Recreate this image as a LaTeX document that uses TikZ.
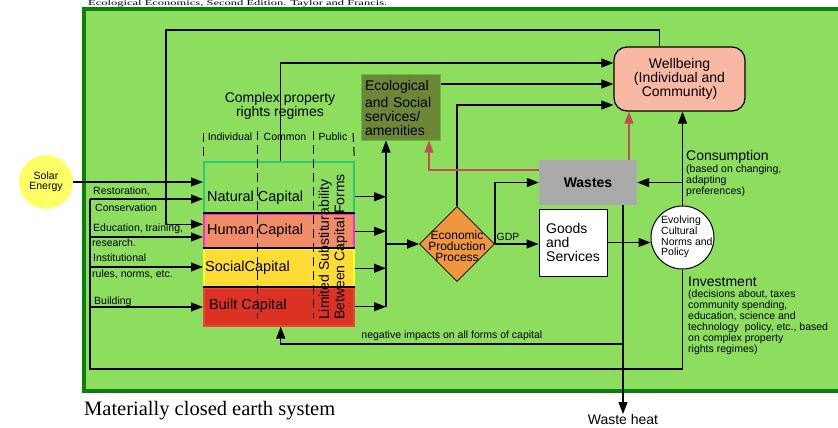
\documentclass[tikz,border=0pt]{standalone}
\usepackage{fontspec}
\setmainfont{Liberation Sans}
\newfontfamily\serifface{Liberation Serif}
\usetikzlibrary{shapes.geometric,arrows.meta}
\usepackage{xcolor}
\definecolor{earthgreen}{HTML}{8DDE5E}
\definecolor{earthedge}{HTML}{0A800A}
\definecolor{solaryellow}{HTML}{FFFF66}
\definecolor{naturaledge}{HTML}{2ECC71}
\definecolor{humanfill}{HTML}{F08C68}
\definecolor{humanedge}{HTML}{F030D0}
\definecolor{socialfill}{HTML}{FFDC34}
\definecolor{socialedge}{HTML}{FFFF30}
\definecolor{builtfill}{HTML}{DC3224}
\definecolor{builtedge}{HTML}{F04434}
\definecolor{ecofill}{HTML}{6E8737}
\definecolor{ecoedge}{HTML}{5CC040}
\definecolor{wellfill}{HTML}{F8B8A4}
\definecolor{wastegray}{HTML}{AAAAAA}
\definecolor{eppfill}{HTML}{F0963F}
\definecolor{wasteline}{HTML}{BE5050}

\begin{document}
\begin{tikzpicture}[x=1pt,y=-1pt,
  arr/.style={draw=black, line width=1.2pt, -{Triangle[length=12pt,width=9pt]}},
  wastearr/.style={arr, draw=wasteline},
  capbox/.style={rectangle, minimum width=150pt, anchor=north west, inner sep=0pt, line width=1.5pt},
  captxt/.style={font=\fontsize{14.5}{15}\selectfont, inner sep=0pt, anchor=west},
  txt/.style={font=\fontsize{10.5}{11}\selectfont, inner sep=0pt},
  big/.style={font=\fontsize{14}{14}\selectfont, inner sep=0pt},
  regime/.style={dash pattern=on 9pt off 5pt, line width=1pt}]
  \useasboundingbox (0,0) rectangle (838,428);
  \fill[white] (0,0) rectangle (838,428);
  \draw[line width=4pt, draw=earthedge, fill=earthgreen] (84,9) rectangle (860,391);
  \node[anchor=base west, yscale=0.6, font=\serifface\fontsize{12.5}{13}\selectfont, inner sep=0pt] (source) at (88,6) {Ecological Economics, Second Edition. Taylor and Francis.};
  \node[anchor=base west, font=\serifface\fontsize{20.5}{21}\selectfont, inner sep=0pt] (closed) at (84,415) {Materially closed earth system};

  \node[circle, fill=solaryellow, minimum size=54pt, inner sep=0pt, align=center, font=\fontsize{10.5}{10}\selectfont] (solar) at (46,182) {Solar\\Energy};

  \node[capbox, minimum height=52pt, fill=earthgreen, draw=naturaledge] (natural) at (203,161) {};
  \node[capbox, minimum height=35pt, fill=humanfill, draw=humanedge] (human) at (203,213) {};
  \node[capbox, minimum height=39pt, fill=socialfill, draw=socialedge] (social) at (203,248) {};
  \node[capbox, minimum height=38pt, fill=builtfill, draw=builtedge] (built) at (203,287) {};
  \draw[line width=1.6pt] (human.north west) -- (human.north east);
  \draw[line width=1.6pt] (social.north west) -- (social.north east);
  \draw[line width=1.6pt] (built.north west) -- (built.north east);
  \node[captxt] (naturaltxt) at (207,198) {Natural Capital};
  \node[captxt] (humantxt) at (207,231) {Human Capital};
  \node[captxt] (socialtxt) at (205,268) {SocialCapital};
  \node[captxt] (builttxt) at (209,306) {Built Capital};

  \draw[regime] (203,133) -- (natural.north west);
  \draw[regime] (257,131) -- (257,318);
  \draw[regime] (313,131) -- (313,318);
  \draw[regime] (353,133) -- (natural.north east);
  \node[txt] (individual) at (230,137) {Individual};
  \node[txt] (common) at (285,137) {Common};
  \node[txt] (public) at (333,137) {Public};
  \node[big, align=center] (regimes) at (280,106) {Complex property\\rights regimes};
  \node[rotate=90, anchor=west, align=left, font=\fontsize{14}{15.5}\selectfont, inner sep=0pt] (substitute) at (333,320) {Limited Substiturability\\Between Capital Forms};

  \node[fill=ecofill, draw=ecoedge, line width=1pt, minimum width=79pt, minimum height=65pt, text width=71pt, align=left, inner sep=0pt, font=\fontsize{14}{14}\selectfont] (eco) at (400.5,107.5) {Ecological\\[3pt]and Social\\services/\\amenities};
  \node[rounded corners=13pt, fill=wellfill, draw, line width=1.2pt, minimum width=131pt, minimum height=64pt, align=center, font=\fontsize{14}{14}\selectfont] (wellbeing) at (679.5,79) {Wellbeing\\(Individual and\\Community)};
  \node[fill=wastegray, minimum width=98pt, minimum height=45pt, font=\bfseries\fontsize{14}{14}\selectfont] (wastes) at (588,182.5) {Wastes};
  \node[fill=white, draw, line width=1pt, minimum width=68pt, minimum height=67pt, align=left, font=\fontsize{14}{14}\selectfont] (goods) at (573,242.5) {Goods\\and\\Services};
  \node[diamond, fill=eppfill, draw, line width=0.8pt, minimum width=75pt, minimum height=75pt, inner sep=0pt] (epp) at (457,244) {};
  \node[align=center, inner sep=0pt, font=\fontsize{12}{10.8}\selectfont] (epptxt) at (457,246) {Economic\\Production\\Process};
  \node[circle, fill=white, draw, line width=1pt, minimum size=63pt, inner sep=0pt] (evolving) at (682.5,237.5) {};
  \node[anchor=west, align=left, inner sep=0pt, font=\fontsize{10.5}{10.6}\selectfont] (evolvingtxt) at (661,237) {Evolving\\Cultural\\Norms and\\Policy};
  \node[anchor=north, inner sep=0pt, font=\fontsize{14}{14}\selectfont] (heat) at (623,414) {Waste heat};

  \node[big, anchor=west] (consumption) at (686,156.5) {Consumption};
  \node[txt, anchor=north west, align=left] (consumptionnote) at (686,165) {(based on changing,\\adapting\\preferences)};
  \node[big, anchor=west] (investment) at (688,282) {Investment};
  \node[txt, anchor=north west, align=left] (investmentnote) at (688,290) {(decisions about, taxes\\community spending,\\education, science and\\technology\ \ policy, etc., based\\on complex property\\rights regimes)};

  \node[txt, anchor=base west] (restorationtxt) at (93,194) {Restoration,};
  \node[txt, anchor=base west] (conservationtxt) at (95,211) {Conservation};
  \node[txt, anchor=base west] (educationtxt) at (93,231) {Education, training,};
  \node[txt, anchor=base west] (researchtxt) at (92,246) {research.};
  \node[txt, anchor=base west] (institutionaltxt) at (93,261) {Institutional};
  \node[txt, anchor=base west] (rulestxt) at (92,277) {rules, norms, etc.};
  \node[txt, anchor=base west] (buildingtxt) at (94,304) {Building};

  \coordinate (investfoot) at (90,369);
  \coordinate (restoration) at (90,199);
  \coordinate (education) at (90,237);
  \coordinate (institution) at (90,267);
  \coordinate (building) at (90,307);
  \coordinate (feedback) at (166,30);
  \coordinate (capitalbus) at (386,0);
  \coordinate (negimpact) at (623,344);

  \draw[arr] (solar) -- (solar -| natural.west);
  \draw[line width=1.2pt] (evolving.south) |- (investfoot) -- (restoration);
  \draw[arr] (restoration) -- (restoration -| natural.west);
  \draw[arr] (education) -- (education -| human.west);
  \draw[arr] (institution) -- (institution -| social.west);
  \draw[arr] (building) -- (building -| built.west);
  \draw[arr] ([xshift=-20pt]wellbeing.north) |- (feedback) |- ([yshift=7pt]human.west);

  \draw[arr] ([xshift=2pt]natural.north) |- ([yshift=16pt]wellbeing.west);
  \draw[arr] ([yshift=23.5pt]eco.east) -- ([yshift=23.5pt]eco.east -| wellbeing.west);
  \draw[arr] (epp.north) |- ([yshift=-26pt]wellbeing.west);

  \draw[arr] ([yshift=-9pt]natural.east) -- ([yshift=-9pt]natural.east -| capitalbus);
  \draw[arr] (human.east) -- (human.east -| capitalbus);
  \draw[arr] (social.east) -- (social.east -| capitalbus);
  \draw[arr] (built.east) -- (built.east -| capitalbus);
  \draw[arr] (built.east -| capitalbus) -- (eco.south -| capitalbus);
  \draw[arr] (epp.west -| capitalbus) -- (epp.west);

  \draw[arr] (epp.east) -- node[txt, above=3pt, pos=0.3] (gdp) {GDP} (epp.east -| goods.west);
  \draw[arr] (epp.east) |- (wastes.west);
  \draw[arr] (goods.east) -- (goods.east -| evolving.west);
  \draw[arr] (evolving.north) -- (evolving.north |- wellbeing.south);
  \draw[arr] (evolving.north |- wastes.east) -- (wastes.east);
  \draw[wastearr] ([xshift=41pt]wastes.north) -- ([xshift=41pt]wastes.north |- wellbeing.south);
  \draw[wastearr] ([yshift=12.5pt]wastes.west) -| ([xshift=28.5pt]eco.south);
  \draw[arr] ([xshift=35pt]wastes.south) -- (heat.north);
  \draw[arr] (negimpact) -| node[txt, above=3pt, pos=0.25] (negtxt) {negative impacts on all forms of capital} ([xshift=2pt]built.south);
\end{tikzpicture}
\end{document}
